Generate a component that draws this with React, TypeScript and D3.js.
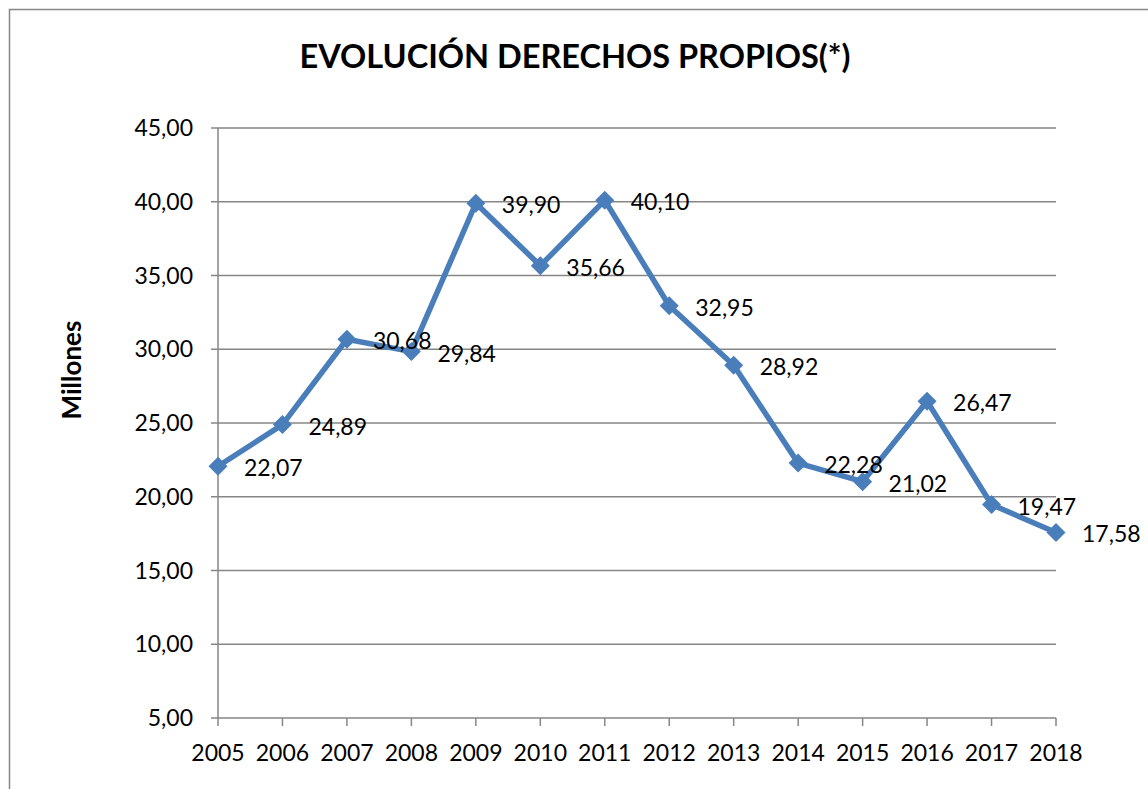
import React from "react";
import * as d3 from "d3";

const years = ["2005", "2006", "2007", "2008", "2009", "2010", "2011", "2012", "2013", "2014", "2015", "2016", "2017", "2018"];
const values = [22.07, 24.89, 30.68, 29.84, 39.9, 35.66, 40.1, 32.95, 28.92, 22.28, 21.02, 26.47, 19.47, 17.58];
const yTicks = [5, 10, 15, 20, 25, 30, 35, 40, 45];

const title = "EVOLUCIÓN DERECHOS PROPIOS(*)";
const yTitle = "Millones";

const width = 1148;
const height = 789;
const margin = { left: 218, right: 92, top: 128, bottom: 71 };
const lineColor = "#4A7EBB";
const gridColor = "#868686";
const font = "Lato, 'Open Sans', sans-serif";

const fmt = (v: number) => v.toFixed(2).replace(".", ",");

export default function App() {
  const x = d3
    .scalePoint<string>()
    .domain(years)
    .range([margin.left, width - margin.right]);
  const y = d3
    .scaleLinear()
    .domain([5, 45])
    .range([height - margin.bottom, margin.top]);

  const line = d3
    .line<number>()
    .x((_, i) => x(years[i])!)
    .y((d) => y(d));

  const diamond = (cx: number, cy: number, r: number) =>
    `M${cx},${cy - r}L${cx + r},${cy}L${cx},${cy + r}L${cx - r},${cy}Z`;

  const x0 = margin.left;
  const x1 = width - margin.right;
  const yBottom = y(5);

  return (
    <svg
      width={width}
      height={height}
      style={{ position: "absolute", left: 0, top: 0, display: "block" }}
      fontFamily={font}
    >
      <rect x={0} y={0} width={width} height={height} fill="#fff" />
      <rect x={9.5} y={9.5} width={width + 20} height={height + 20} fill="none" stroke={gridColor} strokeWidth={1.5} />

      <text x={575} y={68} textAnchor="middle" fontSize={32.5} fontWeight="bold" fill="#000">
        {title}
      </text>

      {/* gridlines and y axis */}
      {yTicks.map((t) => (
        <g key={t}>
          <line x1={x0 - 7} x2={x1} y1={y(t)} y2={y(t)} stroke={gridColor} strokeWidth={1.5} />
          <text x={x0 - 25} y={y(t)} dy="0.35em" textAnchor="end" fontSize={23} fill="#000">
            {fmt(t)}
          </text>
        </g>
      ))}
      <line x1={x0} x2={x0} y1={y(45)} y2={yBottom} stroke={gridColor} strokeWidth={1.5} />

      {/* x axis ticks */}
      {years.map((yr) => (
        <g key={yr}>
          <line x1={x(yr)} x2={x(yr)} y1={yBottom} y2={yBottom + 8} stroke={gridColor} strokeWidth={1.5} />
          <text x={x(yr)} y={yBottom + 43} textAnchor="middle" fontSize={23} fill="#000">
            {yr}
          </text>
        </g>
      ))}

      <text
        transform={`translate(81,370) rotate(-90)`}
        textAnchor="middle"
        fontSize={26}
        fontWeight="bold"
        fill="#000"
      >
        {yTitle}
      </text>

      <path d={line(values) ?? ""} fill="none" stroke={lineColor} strokeWidth={5.5} strokeLinejoin="round" />
      {values.map((v, i) => (
        <path key={i} d={diamond(x(years[i])!, y(v), 9.5)} fill={lineColor} />
      ))}
      {values.map((v, i) => (
        <text key={"l" + i} x={x(years[i])! + 26} y={y(v) + 2} dy="0.35em" fontSize={23} fill="#000">
          {fmt(v)}
        </text>
      ))}
    </svg>
  );
}
